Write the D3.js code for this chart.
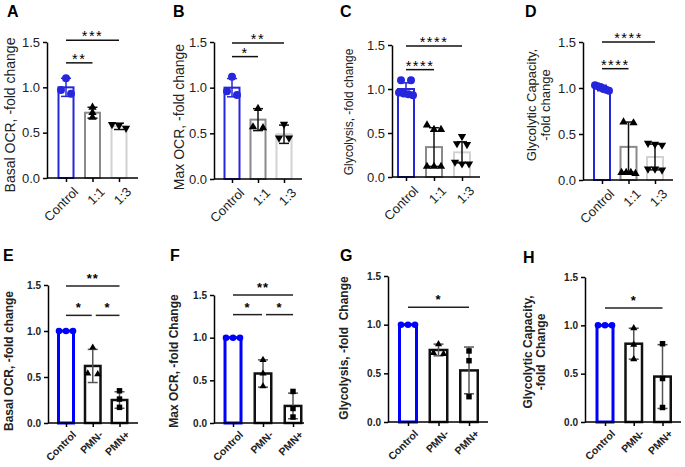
<!DOCTYPE html>
<html>
<head>
<meta charset="utf-8">
<script src="https://cdn.jsdelivr.net/npm/d3@7"></script>
<style>
  body { margin: 0; background: #fff; }
  svg text { font-family: "Liberation Sans", Arial, sans-serif; }
</style>
</head>
<body>
<div id="chart"></div>
<script>
// 组别和刻度
const topGroups = ["Control", "1:1", "1:3"];
const botGroups = ["Control", "PMN-", "PMN+"];
const yTicks = [0, 0.5, 1.0, 1.5];

// 每个面板：均值、SD、散点
const meanA = [1.0, 0.72, 0.57], sdA = [0.10, 0.06, 0.035];
const ptsA = [[0.93, 1.10, 0.97], [0.78, 0.72, 0.67], [0.59, 0.55, 0.58]];
const meanB = [1.0, 0.65, 0.49], sdB = [0.10, 0.12, 0.10];
const ptsB = [[0.92, 1.12, 0.96], [0.77, 0.56, 0.57], [0.60, 0.45, 0.45]];
const meanC = [1.0, 0.34, 0.28], sdC = [0.07, 0.22, 0.12];
const ptsC = [[1.10, 1.10, 0.95, 0.93, 0.96, 0.94], [0.59, 0.54, 0.54, 0.12, 0.12, 0.12], [0.46, 0.38, 0.37, 0.17, 0.15, 0.15]];
const meanD = [1.0, 0.36, 0.25], sdD = [0.03, 0.27, 0.14];
const ptsD = [[1.03, 1.02, 1.01, 0.98, 0.97, 0.99], [0.63, 0.62, 0.08, 0.07, 0.08, 0.08], [0.40, 0.39, 0.38, 0.12, 0.11, 0.12]];
const meanE = [1.0, 0.62, 0.25], sdE = [0, 0.18, 0.09];
const ptsE = [[1, 1, 1], [0.82, 0.53, 0.54], [0.35, 0.26, 0.17]];
const meanF = [1.0, 0.58, 0.20], sdF = [0, 0.16, 0.15];
const ptsF = [[1, 1, 1], [0.74, 0.58, 0.43], [0.37, 0.17, 0.07]];
const meanG = [1.0, 0.74, 0.53], sdG = [0, 0.06, 0.24];
const ptsG = [[1, 1, 1], [0.80, 0.70, 0.71], [0.73, 0.63, 0.26]];
const meanH = [1.0, 0.81, 0.47], sdH = [0, 0.16, 0.33];
const ptsH = [[1, 1, 1], [0.97, 0.80, 0.65], [0.81, 0.45, 0.15]];

// 显著性标注 (a,b 为组索引, v 为高度的数据值)
const sigA = [{ a: 0, b: 1, t: "**", v: 1.27 }, { a: 0, b: 2, t: "***", v: 1.52 }];
const sigB = [{ a: 0, b: 1, t: "*", v: 1.34 }, { a: 0, b: 2, t: "**", v: 1.49 }];
const sigC = [{ a: 0, b: 1, t: "****", v: 1.22 }, { a: 0, b: 2, t: "****", v: 1.49 }];
const sigD = [{ a: 0, b: 1, t: "****", v: 1.21 }, { a: 0, b: 2, t: "****", v: 1.50 }];
const sigE = [{ a: 0, b: 2, t: "**", v: 1.49 }, { a: 0, b: 1, t: "*", v: 1.17 }, { a: 1, b: 2, t: "*", v: 1.17 }];
const sigF = [{ a: 0, b: 2, t: "**", v: 1.50 }, { a: 0, b: 1, t: "*", v: 1.27 }, { a: 1, b: 2, t: "*", v: 1.27 }];
const sigG = [{ a: 0, b: 2, t: "*", v: 1.18 }];
const sigH = [{ a: 0, b: 2, t: "*", v: 1.18 }];

const W = 685, H = 467;
const svg = d3.select("#chart").append("svg").attr("width", W).attr("height", H);

// 面板布局 (c0/c1: 第一组和最后一组的中心)
const panels = [
  { id: "A", row: "top", groups: topGroups, mean: meanA, sd: sdA, pts: ptsA, sig: sigA,
    left: 47, right: 138, top: 42, bottom: 178, c0: 66, c1: 119, bw: 17,
    lx: 7, ly: 17, yl: ["Basal OCR, -fold change"], ylx: 15, yly: 115, yfs: 14 },
  { id: "B", row: "top", groups: topGroups, mean: meanB, sd: sdB, pts: ptsB, sig: sigB,
    left: 214, right: 302, top: 42, bottom: 179, c0: 232, c1: 284, bw: 17,
    lx: 173, ly: 17, yl: ["Max OCR, -fold change"], ylx: 184, yly: 117, yfs: 14 },
  { id: "C", row: "top", groups: topGroups, mean: meanC, sd: sdC, pts: ptsC, sig: sigC,
    left: 392, right: 480, top: 45, bottom: 177, c0: 406, c1: 462, bw: 18,
    lx: 340, ly: 17, yl: ["Glycolysis, -fold change"], ylx: 353, yly: 112, yfs: 12 },
  { id: "D", row: "top", groups: topGroups, mean: meanD, sd: sdD, pts: ptsD, sig: sigD,
    left: 583, right: 673, top: 42, bottom: 180, c0: 602, c1: 655, bw: 18,
    lx: 525, ly: 17, yl: ["Glycolytic Capacity,", "-fold change"], ylx: 536, yly: 105, yfs: 13 },
  { id: "E", row: "bot", groups: botGroups, mean: meanE, sd: sdE, pts: ptsE, sig: sigE,
    left: 48, right: 138, top: 285, bottom: 423, c0: 66, c1: 119.5, bw: 18,
    lx: 3, ly: 261, yl: ["Basal OCR, -fold change"], ylx: 13, yly: 361, yfs: 12 },
  { id: "F", row: "bot", groups: botGroups, mean: meanF, sd: sdF, pts: ptsF, sig: sigF,
    left: 214, right: 304, top: 295, bottom: 423, c0: 233, c1: 293, bw: 19,
    lx: 170, ly: 261, yl: ["Max OCR, -fold Change"], ylx: 178, yly: 361, yfs: 12 },
  { id: "G", row: "bot", groups: botGroups, mean: meanG, sd: sdG, pts: ptsG, sig: sigG,
    left: 388, right: 488, top: 276, bottom: 422, c0: 408, c1: 469, bw: 20,
    lx: 340, ly: 261, yl: ["Glycolysis, -fold  Change"], ylx: 348, yly: 348, yfs: 12 },
  { id: "H", row: "bot", groups: botGroups, mean: meanH, sd: sdH, pts: ptsH, sig: sigH,
    left: 585, right: 681, top: 277, bottom: 422, c0: 605, c1: 662.5, bw: 19,
    lx: 523, ly: 263, yl: ["Glycolytic Capacity,", "-fold  Change"], ylx: 532, yly: 352, yfs: 12 }
];

const topBlue = "#2626dc", botBlue = "#0000ff";

// 散点横向错开：纵向过近的点成簇后左右铺开
function jitter(ys) {
  const idx = ys.map((y, i) => i).sort((a, b) => ys[a] - ys[b]);
  const off = new Array(ys.length).fill(0);
  let cluster = [idx[0]];
  const flush = () => {
    const n = cluster.length;
    if (n > 1) {
      const half = Math.min(7, (n - 1) * 5);
      cluster.forEach((k, j) => { off[k] = -half + (2 * half) * j / (n - 1); });
    }
  };
  for (let i = 1; i < idx.length; i++) {
    if (ys[idx[i]] - ys[idx[i - 1]] < 4.5) cluster.push(idx[i]);
    else { flush(); cluster = [idx[i]]; }
  }
  flush();
  return off;
}

panels.forEach(p => {
  const isTop = p.row === "top";
  const g = svg.append("g").attr("class", "panel-" + p.id);
  const y = d3.scaleLinear().domain([0, 1.5]).range([p.bottom, p.top]);
  const x = d3.scalePoint().domain(p.groups).range([p.c0, p.c1]);
  const cx = d => x(d);
  const weight = isTop ? "normal" : "bold";

  // 面板字母
  g.append("text").attr("x", p.lx).attr("y", p.ly)
    .attr("font-size", 16).attr("font-weight", "bold").text(p.id);

  // 柱子
  const barStroke = isTop ? [topBlue, "#8a8a8a", "#d2d2d2"] : [botBlue, "#111", "#111"];
  const barSW = isTop ? [2, 2, 2] : [3, 2.5, 2.5];
  p.groups.forEach((grp, i) => {
    const sw = barSW[i];
    g.append("rect")
      .attr("x", cx(grp) - p.bw / 2 + sw / 2)
      .attr("y", y(p.mean[i]))
      .attr("width", p.bw - sw)
      .attr("height", y(0) - y(p.mean[i]))
      .attr("fill", "#fff")
      .attr("stroke", barStroke[i])
      .attr("stroke-width", sw);
  });

  // 误差线
  p.groups.forEach((grp, i) => {
    if (!p.sd[i]) return;
    const col = isTop ? (i === 0 ? topBlue : "#111") : "#555";
    const c = cx(grp), hi = y(p.mean[i] + p.sd[i]), lo = y(p.mean[i] - p.sd[i]);
    const eg = g.append("g").attr("stroke", col).attr("stroke-width", 1.5);
    eg.append("line").attr("x1", c).attr("x2", c).attr("y1", hi).attr("y2", lo);
    eg.append("line").attr("x1", c - 5).attr("x2", c + 5).attr("y1", hi).attr("y2", hi);
    eg.append("line").attr("x1", c - 5).attr("x2", c + 5).attr("y1", lo).attr("y2", lo);
  });

  // 散点
  const shapes = isTop
    ? [{ t: d3.symbolCircle, s: 50, r: 0 }, { t: d3.symbolTriangle, s: 30, r: 0 }, { t: d3.symbolTriangle, s: 30, r: 180 }]
    : [{ t: d3.symbolCircle, s: 34, r: 0 }, { t: d3.symbolTriangle, s: 22, r: 0 }, { t: d3.symbolSquare, s: 30, r: 0 }];
  p.groups.forEach((grp, i) => {
    const ys = p.pts[i].map(v => y(v));
    const off = jitter(ys);
    const sym = d3.symbol().type(shapes[i].t).size(shapes[i].s);
    const col = i === 0 ? (isTop ? topBlue : botBlue) : "#000";
    ys.forEach((py, k) => {
      g.append("path").attr("d", sym())
        .attr("transform", `translate(${cx(grp) + off[k]},${py}) rotate(${shapes[i].r})`)
        .attr("fill", col);
    });
  });

  // Y 轴
  const yAxis = g.append("g").attr("transform", `translate(${p.left},0)`)
    .call(d3.axisLeft(y).tickValues(yTicks).tickFormat(d3.format(".1f")).tickSize(4).tickSizeOuter(0));
  yAxis.select(".domain").attr("stroke", "#000").attr("stroke-width", 1.5);
  yAxis.selectAll(".tick line").attr("stroke", "#000").attr("stroke-width", 1.5);
  yAxis.selectAll(".tick text")
    .attr("font-family", "Liberation Sans, Arial, sans-serif")
    .attr("font-size", isTop ? 13 : 10).attr("font-weight", weight).attr("fill", "#222");

  // X 轴
  const xAxis = g.append("g").attr("transform", `translate(0,${p.bottom})`)
    .call(d3.axisBottom(x).tickSize(4).tickSizeOuter(0));
  xAxis.select(".domain").remove();
  xAxis.append("line").attr("x1", p.left).attr("x2", p.right).attr("stroke", "#000").attr("stroke-width", 1.5);
  xAxis.selectAll(".tick line").attr("stroke", "#000").attr("stroke-width", 1.5);
  xAxis.selectAll(".tick text")
    .attr("font-family", "Liberation Sans, Arial, sans-serif")
    .attr("font-size", isTop ? 13 : 10.5).attr("font-weight", weight).attr("fill", "#222")
    .attr("text-anchor", "end")
    .attr("transform", isTop ? "translate(4,6) rotate(-45)" : "translate(3,5) rotate(-45)")
    .attr("dy", "0.71em").attr("y", 3);

  // Y 轴标题
  p.yl.forEach((line, k) => {
    g.append("text")
      .attr("transform", `translate(${p.ylx + k * (p.yfs + 1)},${p.yly}) rotate(-90)`)
      .attr("text-anchor", "middle")
      .attr("font-size", p.yfs).attr("font-weight", weight)
      .style("white-space", "pre")
      .attr("fill", "#222")
      .text(line);
  });

  // 显著性
  p.sig.forEach(s => {
    const gapL = (!isTop && s.b - s.a === 1 && s.a === 1) ? 3 : 0;
    const gapR = (!isTop && s.b - s.a === 1 && s.a === 0 && p.sig.length > 2) ? 1 : 0;
    const x1 = cx(p.groups[s.a]) + gapL, x2 = cx(p.groups[s.b]) - gapR;
    const ly = y(s.v);
    g.append("line").attr("x1", x1).attr("x2", x2).attr("y1", ly).attr("y2", ly)
      .attr("stroke", isTop ? "#111" : "#222").attr("stroke-width", 1.5);
    g.append("text").attr("x", (x1 + x2) / 2).attr("y", isTop ? ly + 1 : ly - 3)
      .attr("text-anchor", "middle")
      .attr("font-size", isTop ? 14.5 : 13).attr("font-weight", weight)
      .attr("letter-spacing", isTop ? 1.5 : 1)
      .text(s.t);
  });
});
</script>
</body>
</html>
